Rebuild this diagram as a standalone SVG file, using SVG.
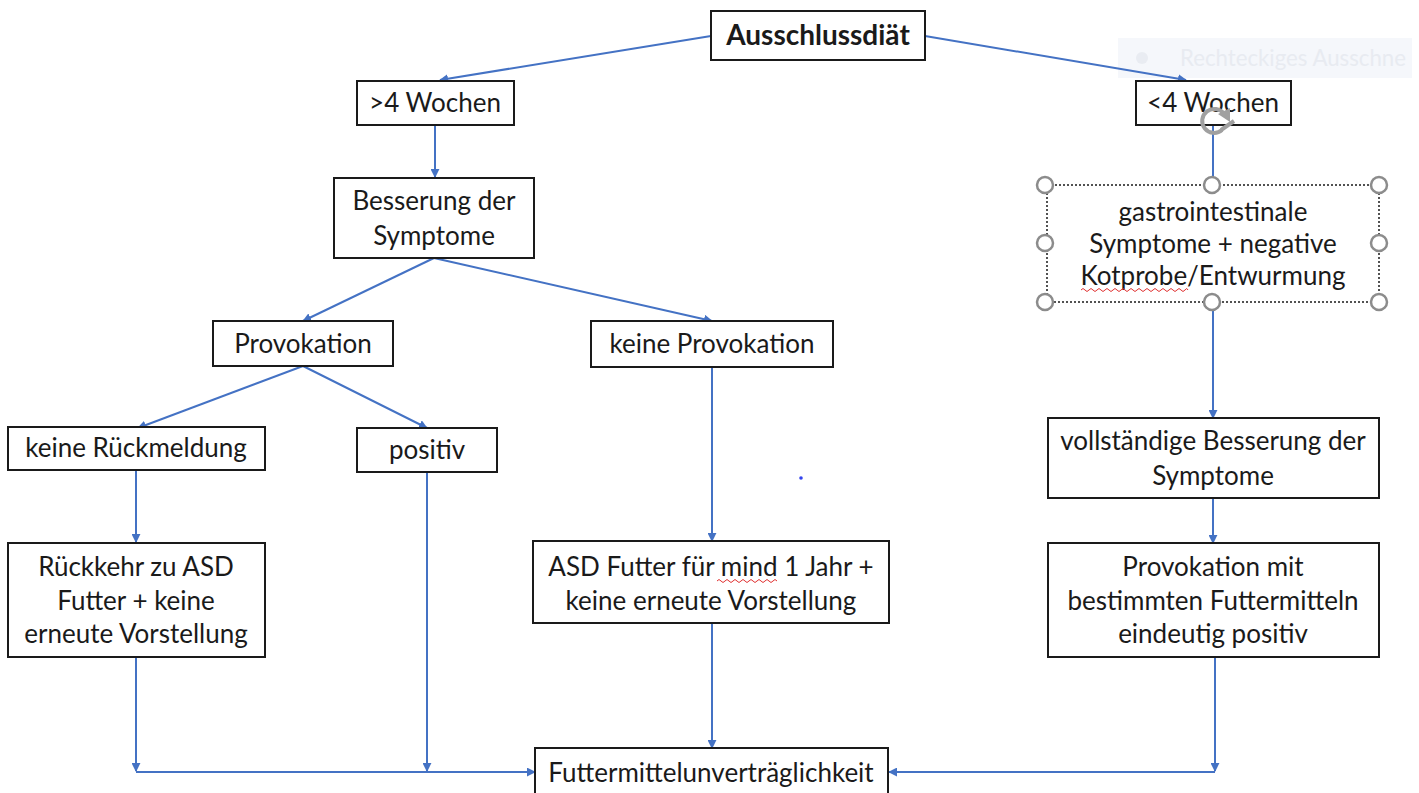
<svg xmlns="http://www.w3.org/2000/svg" width="1419" height="793" viewBox="0 0 1419 793">
<defs>
<marker id="ah" viewBox="0 0 10 10" refX="9" refY="5" markerWidth="9" markerHeight="9" markerUnits="userSpaceOnUse" orient="auto">
<path d="M0,0 L10,5 L0,10 z" fill="#4472C4"/>
</marker>
<style>
.box{fill:#fff;stroke:#1a1a1a;stroke-width:2}
.t{font-family:Lato,"Open Sans","Liberation Sans",sans-serif;font-size:26px;fill:#1a1a1a;text-anchor:middle}
.b{font-weight:bold;font-size:28px}
.c{fill:none;stroke:#4472C4;stroke-width:2}
.h{fill:#fff;stroke:#8c8c8c;stroke-width:2.5}
.w{fill:none;stroke:#e03030;stroke-width:1}
</style>
</defs>
<rect width="1419" height="793" fill="#fff"/>
<g id="tooltip">
<rect x="1118" y="38" width="294" height="40" fill="#f5f7fb"/>
<circle cx="1142" cy="58" r="6" fill="#e9ecf2"/>
<text x="1180" y="66" font-family="Lato,'Liberation Sans',sans-serif" font-size="24" textLength="226" lengthAdjust="spacingAndGlyphs" fill="#e8ebf1">Rechteckiges Ausschne</text>
</g>
<g id="connectors">
<line class="c" x1="711" y1="36" x2="440" y2="80" marker-end="url(#ah)"/>
<line class="c" x1="925" y1="36" x2="1186" y2="80" marker-end="url(#ah)"/>
<line class="c" x1="435" y1="125" x2="435" y2="177" marker-end="url(#ah)"/>
<line class="c" x1="434" y1="258" x2="303" y2="321" marker-end="url(#ah)"/>
<line class="c" x1="434" y1="258" x2="712" y2="321" marker-end="url(#ah)"/>
<line class="c" x1="303" y1="366" x2="138" y2="428" marker-end="url(#ah)"/>
<line class="c" x1="303" y1="366" x2="427" y2="428" marker-end="url(#ah)"/>
<line class="c" x1="136" y1="470" x2="136" y2="542" marker-end="url(#ah)"/>
<line class="c" x1="712" y1="367" x2="712" y2="541" marker-end="url(#ah)"/>
<line class="c" x1="1213" y1="125" x2="1213" y2="185"/>
<line class="c" x1="1213" y1="302" x2="1213" y2="418" marker-end="url(#ah)"/>
<line class="c" x1="1213" y1="498" x2="1213" y2="543" marker-end="url(#ah)"/>
<line class="c" x1="136" y1="657" x2="136" y2="771" marker-end="url(#ah)"/>
<line class="c" x1="136" y1="772" x2="535" y2="772" marker-end="url(#ah)"/>
<line class="c" x1="427" y1="472" x2="427" y2="771" marker-end="url(#ah)"/>
<line class="c" x1="712" y1="623" x2="712" y2="748" marker-end="url(#ah)"/>
<line class="c" x1="1215" y1="657" x2="1215" y2="771" marker-end="url(#ah)"/>
<line class="c" x1="1215" y1="772" x2="889" y2="772" marker-end="url(#ah)"/>
</g>
<g id="n-ausschluss"><rect class="box" x="711" y="11" width="214" height="49"/><text class="t b" x="818" y="45">Ausschlussdiät</text></g>
<g id="n-gt4"><rect class="box" x="357" y="81" width="157" height="44"/><text class="t" x="435" y="112">&gt;4 Wochen</text></g>
<g id="n-lt4"><rect class="box" x="1136" y="81" width="155" height="44"/><text class="t" x="1213" y="112">&lt;4 Wochen</text></g>
<g id="n-besserung"><rect class="box" x="334" y="178" width="200" height="80"/><text class="t" x="434" y="210">Besserung der</text><text class="t" x="434" y="245">Symptome</text></g>
<g id="n-provokation"><rect class="box" x="213" y="321" width="180" height="45"/><text class="t" x="303" y="353">Provokation</text></g>
<g id="n-keineprov"><rect class="box" x="591" y="321" width="242" height="46"/><text class="t" x="712" y="353">keine Provokation</text></g>
<g id="n-keinerueck"><rect class="box" x="8" y="427" width="257" height="43"/><text class="t" x="136" y="457">keine Rückmeldung</text></g>
<g id="n-positiv"><rect class="box" x="357" y="428" width="140" height="44"/><text class="t" x="427" y="459">positiv</text></g>
<g id="n-rueckkehr"><rect class="box" x="8" y="543" width="257" height="114"/><text class="t" x="136" y="576">Rückkehr zu ASD</text><text class="t" x="136" y="610">Futter + keine</text><text class="t" x="136" y="643">erneute Vorstellung</text></g>
<g id="n-asdfutter"><rect class="box" x="533" y="541" width="356" height="82"/><text class="t" x="711" y="576">ASD Futter für mind 1 Jahr +</text><text class="t" x="711" y="610">keine erneute Vorstellung</text>
<path class="w" d="M717,581 q2,-3 4,0 t4,0 t4,0 t4,0 t4,0 t4,0 t4,0 t4,0 t4,0 t4,0 t4,0 t4,0 t4,0 t4,0 t4,0"/></g>
<g id="n-gastro"><rect x="1047" y="185" width="332" height="117" fill="#fff" stroke="#1a1a1a" stroke-width="1.5" stroke-dasharray="2,2"/>
<text class="t" x="1213" y="221">gastrointestinale</text><text class="t" x="1213" y="253">Symptome + negative</text><text class="t" x="1213" y="285">Kotprobe/Entwurmung</text>
<path class="w" d="M1081,290 q2,-3 4,0 t4,0 t4,0 t4,0 t4,0 t4,0 t4,0 t4,0 t4,0 t4,0 t4,0 t4,0 t4,0 t4,0 t4,0 t4,0 t4,0 t4,0 t4,0 t4,0 t4,0 t4,0 t4,0 t4,0 t4,0 t4,0 t3,0"/></g>
<g id="n-vollst"><rect class="box" x="1048" y="418" width="331" height="80"/><text class="t" x="1213" y="450">vollständige Besserung der</text><text class="t" x="1213" y="485">Symptome</text></g>
<g id="n-provmit"><rect class="box" x="1048" y="543" width="331" height="114"/><text class="t" x="1213" y="576">Provokation mit</text><text class="t" x="1213" y="610">bestimmten Futtermitteln</text><text class="t" x="1213" y="643">eindeutig positiv</text></g>
<g id="n-futter"><rect class="box" x="535" y="748" width="353" height="52"/><text class="t" x="711" y="782">Futtermittelunverträglichkeit</text></g>
<g id="selection">
<circle class="h" cx="1045" cy="185" r="8"/><circle class="h" cx="1212" cy="185" r="8"/><circle class="h" cx="1379" cy="185" r="8"/>
<circle class="h" cx="1045" cy="243" r="8"/><circle class="h" cx="1379" cy="243" r="8"/>
<circle class="h" cx="1045" cy="302" r="8"/><circle class="h" cx="1212" cy="302" r="8"/><circle class="h" cx="1379" cy="302" r="8"/>
<path d="M1224,114 A12,12 0 1 0 1222,130" fill="none" stroke="#a0a0a0" stroke-width="4"/>
<path d="M1218,114 L1230,108 L1230,122 z" fill="#a0a0a0"/>
<path d="M1221,130 L1234,121" stroke="#a0a0a0" stroke-width="4"/>
</g>
<circle cx="801" cy="478" r="1.8" fill="#3344ee"/>
</svg>
